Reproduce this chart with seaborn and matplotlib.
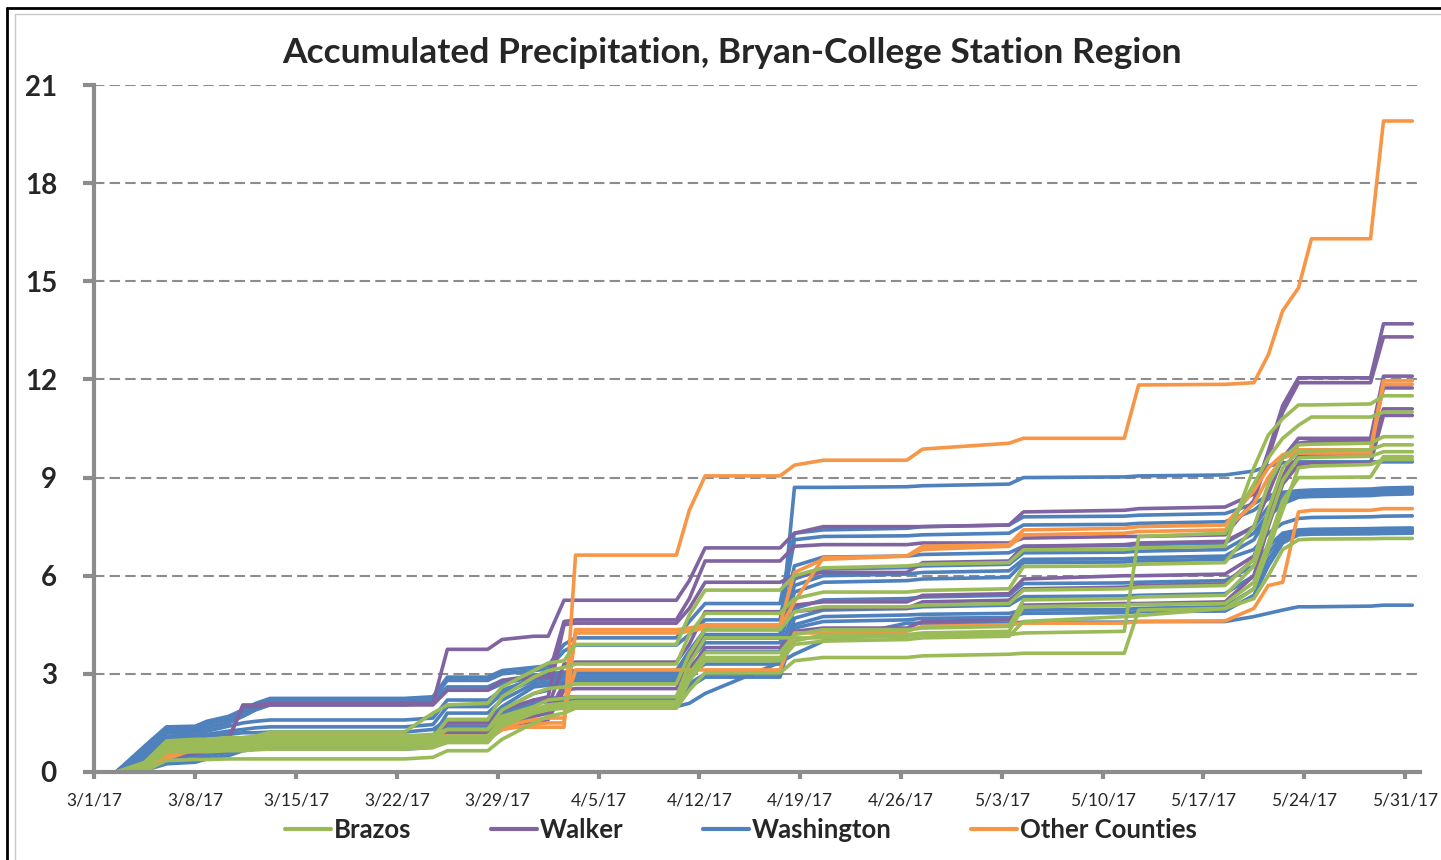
import pandas as pd
import seaborn as sns
import matplotlib.pyplot as plt
from matplotlib.lines import Line2D

# Breakpoint days (days since 3/1/17) shared by every station trace
days = [0, 1.5, 3.5, 5, 7, 7.8, 9.3, 10.3, 11.2, 12.2,
        21.5, 23.5, 24.5, 27.3, 28.3, 30.5, 31.5, 32.6, 33.4, 40.4,
        41.3, 42.4, 47.6, 48.6, 50.6, 56.4, 57.5, 63.5, 64.5, 71.5,
        72.5, 78.5, 80.5, 81.5, 82.5, 83.6, 84.5, 88.6, 89.5, 91.5]

# Accumulated precipitation (inches) per station
washington = [
    [0, 0, 0.5, 1.0, 1.02, 1.1, 1.15, 1.2, 1.2, 1.22, 1.22, 1.3, 1.6, 1.6, 1.9, 2.4, 2.5, 2.9, 3.0, 3.0,
     3.5, 4.1, 4.1, 8.7, 8.7, 8.72, 8.75, 8.8, 9.0, 9.02, 9.05, 9.08, 9.2, 9.35, 9.45, 9.48, 9.48, 9.48, 9.48, 9.48],
    [0, 0, 0.8, 1.38, 1.4, 1.55, 1.7, 1.9, 2.1, 2.25, 2.25, 2.3, 2.9, 2.9, 3.1, 3.2, 3.25, 3.9, 4.1, 4.1,
     4.6, 5.15, 5.15, 7.3, 7.4, 7.45, 7.5, 7.55, 7.8, 7.82, 7.85, 7.9, 8.2, 8.45, 8.55, 8.6, 8.62, 8.65, 8.68, 8.7],
    [0, 0, 0.75, 1.3, 1.32, 1.5, 1.65, 1.85, 2.05, 2.2, 2.2, 2.25, 2.8, 2.8, 3.0, 3.1, 3.15, 3.7, 3.88, 3.88,
     4.2, 4.65, 4.65, 7.1, 7.2, 7.22, 7.25, 7.3, 7.55, 7.57, 7.6, 7.65, 8.0, 8.35, 8.5, 8.55, 8.57, 8.6, 8.62, 8.65],
    [0, 0, 0.7, 1.25, 1.27, 1.45, 1.6, 1.8, 2.0, 2.14, 2.14, 2.2, 2.6, 2.6, 2.8, 2.95, 3.0, 3.05, 3.1, 3.1,
     3.7, 4.35, 4.35, 6.3, 6.57, 6.6, 6.65, 6.7, 6.9, 6.92, 6.95, 7.0, 7.5, 8.1, 8.4, 8.5, 8.52, 8.55, 8.58, 8.6],
    [0, 0, 0.65, 1.2, 1.22, 1.35, 1.5, 1.7, 1.9, 2.05, 2.05, 2.1, 2.5, 2.5, 2.7, 2.9, 2.95, 3.0, 3.05, 3.05,
     3.6, 4.2, 4.2, 5.9, 6.2, 6.25, 6.3, 6.35, 6.7, 6.72, 6.75, 6.8, 7.3, 7.9, 8.3, 8.45, 8.47, 8.5, 8.52, 8.55],
    [0, 0, 0.6, 1.1, 1.12, 1.25, 1.4, 1.5, 1.55, 1.59, 1.59, 1.65, 2.2, 2.2, 2.5, 2.85, 2.9, 2.95, 3.0, 3.0,
     3.5, 4.1, 4.1, 5.7, 6.0, 6.05, 6.1, 6.15, 6.5, 6.52, 6.55, 6.6, 7.1, 7.8, 8.2, 8.4, 8.42, 8.45, 8.48, 8.5],
    [0, 0, 0.55, 1.0, 1.02, 1.15, 1.25, 1.3, 1.35, 1.38, 1.38, 1.45, 2.0, 2.0, 2.4, 2.8, 2.85, 2.88, 2.9, 2.9,
     3.4, 3.95, 3.95, 5.5, 5.8, 5.85, 5.9, 5.95, 6.4, 6.42, 6.45, 6.5, 6.8, 7.3, 7.6, 7.75, 7.78, 7.8, 7.82, 7.83],
    [0, 0, 0.45, 0.85, 0.87, 0.95, 1.0, 1.05, 1.05, 1.05, 1.05, 1.1, 1.8, 1.8, 2.2, 2.7, 2.75, 2.78, 2.8, 2.8,
     3.2, 3.67, 3.67, 5.0, 5.26, 5.3, 5.35, 5.4, 5.76, 5.78, 5.8, 5.85, 6.3, 6.9, 7.3, 7.4, 7.42, 7.44, 7.45, 7.46],
    [0, 0, 0.35, 0.7, 0.72, 0.8, 0.85, 0.9, 0.95, 0.95, 0.95, 1.0, 1.6, 1.6, 2.0, 2.6, 2.65, 2.68, 2.7, 2.7,
     3.0, 3.3, 3.3, 4.7, 4.95, 5.0, 5.05, 5.1, 5.36, 5.38, 5.4, 5.45, 6.0, 6.7, 7.2, 7.35, 7.37, 7.38, 7.39, 7.4],
    [0, 0, 0.15, 0.45, 0.5, 0.6, 0.7, 0.8, 0.85, 0.85, 0.85, 0.9, 1.4, 1.4, 1.8, 2.2, 2.25, 2.28, 2.3, 2.3,
     2.7, 3.0, 3.0, 4.5, 4.75, 4.8, 4.82, 4.85, 4.95, 4.97, 5.0, 5.05, 5.6, 6.5, 7.1, 7.3, 7.32, 7.33, 7.34, 7.35],
    [0, 0, 0.1, 0.35, 0.4, 0.5, 0.6, 0.75, 0.8, 0.8, 0.8, 0.85, 1.3, 1.3, 1.7, 2.1, 2.15, 2.18, 2.2, 2.2,
     2.6, 2.9, 2.9, 4.4, 4.6, 4.65, 4.7, 4.72, 4.85, 4.87, 4.9, 4.92, 5.4, 6.3, 7.0, 7.25, 7.27, 7.28, 7.29, 7.3],
    [0, 0, 0.05, 0.25, 0.3, 0.4, 0.5, 0.65, 0.7, 0.7, 0.7, 0.75, 1.2, 1.2, 1.5, 1.9, 1.95, 1.98, 2.0, 2.0,
     2.1, 2.4, 3.35, 3.6, 4.0, 4.55, 4.55, 4.55, 4.58, 4.58, 4.6, 4.6, 4.75, 4.85, 4.95, 5.05, 5.05, 5.07, 5.1, 5.1],
]

walker = [
    [0, 0, 0.2, 0.7, 0.75, 0.8, 1.0, 2.05, 2.05, 2.1, 2.1, 2.1, 3.75, 3.75, 4.05, 4.15, 4.15, 5.25, 5.25, 5.25,
     5.85, 6.85, 6.85, 7.3, 7.5, 7.5, 7.5, 7.55, 7.95, 8.0, 8.05, 8.1, 8.5, 9.8, 11.2, 12.05, 12.05, 12.05, 13.7, 13.7],
    [0, 0, 0.2, 0.7, 0.75, 0.8, 1.0, 2.0, 2.0, 2.05, 2.05, 2.05, 2.5, 2.5, 2.8, 2.9, 2.9, 4.6, 4.65, 4.65,
     5.3, 6.45, 6.45, 6.9, 6.95, 6.95, 7.0, 7.0, 7.15, 7.2, 7.2, 7.25, 8.3, 9.6, 11.0, 11.9, 11.9, 11.9, 13.3, 13.3],
    [0, 0, 0.1, 0.6, 0.7, 0.75, 0.95, 0.98, 0.98, 1.0, 1.0, 1.05, 1.5, 1.5, 1.9, 2.2, 2.3, 4.5, 4.55, 4.55,
     5.0, 5.8, 5.8, 6.0, 6.1, 6.1, 6.4, 6.45, 6.9, 6.95, 7.0, 7.05, 7.5, 8.5, 9.6, 10.2, 10.2, 10.2, 12.1, 12.1],
    [0, 0, 0.1, 0.5, 0.6, 0.65, 0.7, 0.73, 0.73, 0.75, 0.75, 0.8, 1.2, 1.2, 1.6, 1.9, 2.0, 3.3, 3.36, 3.36,
     3.9, 4.9, 4.9, 5.1, 5.2, 5.2, 5.4, 5.45, 5.9, 6.0, 6.0, 6.05, 6.6, 7.6, 9.0, 10.05, 10.1, 10.1, 11.74, 11.74],
    [0, 0, 0.1, 0.55, 0.65, 0.7, 0.75, 0.8, 0.8, 0.85, 0.85, 0.9, 1.1, 1.1, 1.4, 1.7, 1.8, 2.7, 2.72, 2.72,
     3.4, 4.4, 4.4, 4.9, 5.0, 5.0, 5.2, 5.25, 5.6, 5.65, 5.7, 5.75, 6.5, 7.8, 9.0, 9.65, 9.7, 9.7, 11.1, 11.1],
    [0, 0, 0.1, 0.5, 0.55, 0.6, 0.65, 0.7, 0.7, 0.75, 0.75, 0.8, 1.0, 1.0, 1.3, 1.5, 1.6, 2.5, 2.55, 2.55,
     3.1, 3.8, 3.8, 4.3, 4.4, 4.4, 4.6, 4.65, 5.1, 5.15, 5.15, 5.2, 6.0, 7.5, 8.8, 9.4, 9.45, 9.45, 10.9, 10.9],
]

other_counties = [
    [0, 0, 0, 0.8, 0.95, 0.95, 0.95, 0.95, 0.95, 1.1, 1.1, 1.1, 1.1, 1.1, 1.37, 1.37, 1.37, 1.37, 6.63, 6.63,
     8.0, 9.05, 9.05, 9.38, 9.53, 9.53, 9.87, 10.05, 10.2, 10.2, 11.83, 11.85, 11.9, 12.75, 14.1, 14.8, 16.3, 16.3, 19.9, 19.9],
    [0, 0, 0, 0.6, 0.85, 0.85, 0.9, 0.9, 0.9, 1.0, 1.0, 1.0, 1.1, 1.1, 1.4, 1.6, 1.65, 1.65, 4.35, 4.35,
     4.4, 4.5, 4.5, 6.1, 6.5, 6.6, 6.9, 6.95, 7.4, 7.45, 7.5, 7.55, 8.6, 9.3, 9.7, 9.85, 9.85, 9.85, 11.96, 11.96],
    [0, 0, 0, 0.5, 0.8, 0.8, 0.85, 0.85, 0.85, 0.95, 0.95, 0.95, 1.0, 1.0, 1.3, 1.45, 1.5, 1.5, 4.25, 4.25,
     4.3, 4.4, 4.4, 5.2, 6.55, 6.6, 6.8, 6.9, 7.25, 7.3, 7.35, 7.4, 8.2, 9.0, 9.6, 9.75, 9.75, 9.75, 11.85, 11.85],
    [0, 0, 0, 0.4, 0.7, 0.7, 0.75, 0.75, 0.8, 0.9, 0.9, 0.9, 1.0, 1.0, 1.5, 1.9, 1.95, 1.95, 3.12, 3.12,
     3.12, 3.12, 3.12, 4.25, 4.25, 4.3, 4.45, 4.5, 4.55, 4.55, 4.6, 4.62, 5.0, 5.7, 5.8, 7.95, 8.0, 8.0, 8.05, 8.05],
]

brazos = [
    [0, 0, 0.3, 0.95, 1.0, 1.0, 1.05, 1.05, 1.1, 1.22, 1.22, 1.8, 2.05, 2.1, 2.6, 3.1, 3.33, 3.4, 3.9, 3.9,
     4.8, 5.56, 5.56, 6.0, 6.24, 6.3, 6.35, 6.4, 6.79, 6.8, 6.85, 6.9, 9.3, 10.3, 10.8, 11.22, 11.22, 11.25, 11.5, 11.5],
    [0, 0, 0.25, 0.9, 0.95, 0.95, 1.0, 1.0, 1.05, 1.1, 1.1, 1.15, 1.3, 1.3, 1.7, 2.0, 2.2, 2.25, 2.3, 2.3,
     3.3, 4.1, 4.1, 4.1, 4.1, 4.15, 4.2, 4.2, 4.25, 4.3, 7.2, 7.3, 8.8, 9.6, 10.2, 10.6, 10.85, 10.85, 11.0, 11.0],
    [0, 0, 0.2, 0.85, 0.9, 0.9, 0.95, 0.95, 0.97, 1.0, 1.0, 1.05, 1.6, 1.6, 2.3, 2.9, 3.1, 3.2, 3.3, 3.3,
     4.2, 4.85, 4.85, 5.3, 5.5, 5.5, 5.55, 5.6, 6.28, 6.3, 6.35, 6.4, 7.5, 8.8, 9.6, 10.0, 10.02, 10.05, 10.25, 10.25],
    [0, 0, 0.2, 0.8, 0.85, 0.85, 0.88, 0.88, 0.9, 0.95, 0.95, 1.0, 1.3, 1.3, 1.9, 2.4, 2.55, 2.6, 2.7, 2.7,
     3.6, 4.35, 4.35, 4.9, 5.05, 5.05, 5.1, 5.15, 5.56, 5.6, 5.65, 5.7, 6.5, 8.0, 9.3, 9.8, 9.82, 9.85, 10.0, 10.0],
    [0, 0, 0.15, 0.75, 0.8, 0.8, 0.82, 0.82, 0.85, 0.9, 0.9, 0.95, 1.1, 1.1, 1.6, 1.9, 2.05, 2.1, 2.15, 2.15,
     3.0, 3.65, 3.65, 4.2, 4.35, 4.35, 4.4, 4.45, 5.26, 5.3, 5.35, 5.4, 6.3, 7.6, 8.9, 9.6, 9.62, 9.65, 9.79, 9.79],
    [0, 0, 0.15, 0.7, 0.72, 0.72, 0.75, 0.75, 0.78, 0.8, 0.8, 0.85, 1.0, 1.0, 1.5, 1.85, 1.95, 2.0, 2.05, 2.05,
     2.9, 3.5, 3.5, 4.0, 4.2, 4.2, 4.25, 4.3, 5.05, 5.1, 5.12, 5.15, 5.8, 7.0, 8.3, 9.0, 9.0, 9.02, 9.64, 9.64],
    [0, 0, 0.1, 0.6, 0.62, 0.62, 0.65, 0.65, 0.68, 0.7, 0.7, 0.75, 0.9, 0.9, 1.4, 1.8, 1.9, 1.95, 2.0, 2.0,
     2.8, 3.4, 3.4, 3.9, 4.0, 4.05, 4.1, 4.15, 4.6, 4.75, 4.78, 5.0, 5.6, 6.8, 8.0, 9.3, 9.35, 9.4, 9.55, 9.55],
    [0, 0, 0.05, 0.35, 0.38, 0.38, 0.4, 0.4, 0.4, 0.4, 0.4, 0.45, 0.65, 0.65, 1.0, 1.5, 1.7, 1.8, 1.95, 1.95,
     2.5, 3.03, 3.03, 3.4, 3.5, 3.5, 3.55, 3.6, 3.63, 3.63, 4.95, 5.0, 5.3, 6.0, 6.8, 7.1, 7.12, 7.13, 7.14, 7.14],
]

tick_days = [0, 7, 14, 21, 28, 35, 42, 49, 56, 63, 70, 77, 84, 91]
tick_labels = ['3/1/17', '3/8/17', '3/15/17', '3/22/17', '3/29/17', '4/5/17', '4/12/17',
               '4/19/17', '4/26/17', '5/3/17', '5/10/17', '5/17/17', '5/24/17', '5/31/17']

counties = ['Brazos', 'Walker', 'Washington', 'Other Counties']
colors = {'Brazos': '#9BBB59', 'Walker': '#8064A2',
          'Washington': '#4F81BD', 'Other Counties': '#F79646'}


def to_long(name, runs):
    """Stack one county's station traces into long form."""
    rows = []
    for i, run in enumerate(runs):
        for d, v in zip(days, run):
            rows.append({'county': name, 'station': f'{name}-{i}', 'day': d, 'precip': v})
    return pd.DataFrame(rows)


data = pd.concat([to_long('Washington', washington), to_long('Walker', walker),
                  to_long('Other Counties', other_counties), to_long('Brazos', brazos)],
                 ignore_index=True)

sns.set_style('white')
plt.rcParams['font.family'] = ['Lato', 'DejaVu Sans']

fig = plt.figure(figsize=(14.41, 8.60), dpi=100)
ax = fig.add_axes([94.5 / 1441, 1 - 772 / 860, 1325 / 1441, 687 / 860])

# draw order: blue at the back, green on top
for county in ['Washington', 'Walker', 'Other Counties', 'Brazos']:
    sub = data[data['county'] == county]
    sns.lineplot(data=sub, x='day', y='precip', units='station', estimator=None,
                 color=colors[county], linewidth=2.6, ax=ax, legend=False,
                 solid_joinstyle='round', solid_capstyle='round')

ax.set_xlim(0, 92)
ax.set_ylim(0, 21)
ax.set_yticks(range(0, 22, 3))
ax.set_xticks(tick_days)
ax.set_xticklabels(tick_labels, fontsize=12.5)
ax.set_yticklabels([str(v) for v in range(0, 22, 3)], fontsize=20, fontweight='bold')
ax.set_xlabel('')
ax.set_ylabel('')

grid_color = '#8C8C8C'
ax.yaxis.grid(True, color=grid_color, linestyle=(0, (5, 2.5)), linewidth=1.5)
ax.xaxis.grid(False)
ax.set_axisbelow(True)
for side in ['top', 'right']:
    ax.spines[side].set_visible(False)
for side in ['left', 'bottom']:
    ax.spines[side].set_color(grid_color)
    ax.spines[side].set_linewidth(3)
ax.tick_params(axis='y', length=8, width=3, color=grid_color, pad=19, left=True)
ax.tick_params(axis='x', length=5, width=3, color=grid_color, pad=10, bottom=True)

fig.text(0.508, 1 - 53 / 860, 'Accumulated Precipitation, Bryan-College Station Region',
         ha='center', va='center', fontsize=25.5, fontweight='bold')

handles = [Line2D([0], [0], color=colors[c], linewidth=3) for c in counties]
fig.legend(handles, counties, loc='center', bbox_to_anchor=(0.514, 1 - 830 / 860),
           ncol=4, frameon=False, handlelength=1.8, handletextpad=0.1,
           columnspacing=3.1, prop={'size': 18.5, 'weight': 'bold'})

# chart frame
fig.add_artist(Line2D([7 / 1441, 7 / 1441], [0, 1 - 8 / 860], transform=fig.transFigure,
                      color='black', linewidth=2))
fig.add_artist(Line2D([7 / 1441, 1], [1 - 8 / 860, 1 - 8 / 860], transform=fig.transFigure,
                      color='black', linewidth=2))
fig.add_artist(Line2D([15 / 1441, 15 / 1441], [0, 1 - 14 / 860], transform=fig.transFigure,
                      color='#C8C8C8', linewidth=1))
fig.add_artist(Line2D([15 / 1441, 1], [1 - 14 / 860, 1 - 14 / 860], transform=fig.transFigure,
                      color='#C8C8C8', linewidth=1))

fig.savefig('out.png', dpi=100)
